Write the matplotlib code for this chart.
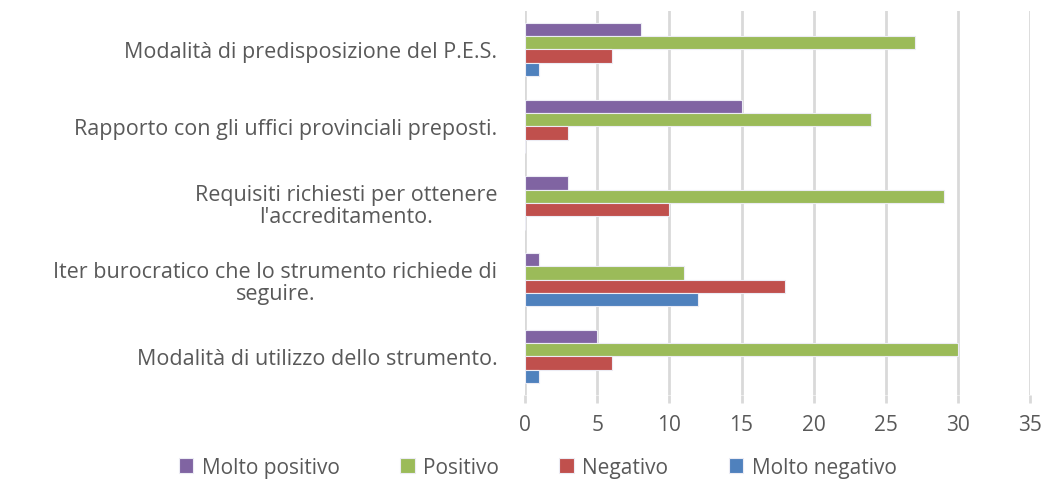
import matplotlib.pyplot as plt
import numpy as np

# --- Data ---
CATEGORIES = [
    "Modalità di predisposizione del P.E.S.",
    "Rapporto con gli uffici provinciali preposti.",
    "Requisiti richiesti per ottenere\nl'accreditamento.",
    "Iter burocratico che lo strumento richiede di\nseguire.",
    "Modalità di utilizzo dello strumento.",
]
SERIES = ["Molto positivo", "Positivo", "Negativo", "Molto negativo"]
MOLTO_POSITIVO = [8, 15, 3, 1, 5]
POSITIVO = [27, 24, 29, 11, 30]
NEGATIVO = [6, 3, 10, 18, 6]
MOLTO_NEGATIVO = [1, 0, 0, 12, 1]
X_TICKS = [0, 5, 10, 15, 20, 25, 30, 35]

COLORS = ["#8064A2", "#9BBB59", "#C0504D", "#4F81BD"]
TEXT_COLOR = "#595959"
GRID_COLOR = "#D9D9D9"
OUTPUT_IMAGE = "out.png"

plt.rcParams["font.family"] = ["Open Sans", "DejaVu Sans"]

fig = plt.figure(figsize=(10.48, 4.85), dpi=100)
ax = fig.add_axes([0.501, 0.184, 0.482, 0.791])

values = [MOLTO_POSITIVO, POSITIVO, NEGATIVO, MOLTO_NEGATIVO]
y = np.arange(len(CATEGORIES))
h = 0.174
for i, (name, vals, col) in enumerate(zip(SERIES, values, COLORS)):
    offs = (i - 1.5) * h
    ax.barh(y + offs, vals, height=h, color=col, edgecolor="#ECECF4",
            linewidth=0.8, label=name, zorder=3)

ax.set_xlim(0, 35)
ax.set_ylim(4.5, -0.5)
ax.set_xticks(X_TICKS)
ax.set_yticks(y)
ax.set_yticklabels(CATEGORIES, multialignment="center", linespacing=1.05)

ax.grid(axis="x", color=GRID_COLOR, linewidth=2, zorder=0)
for s in ax.spines.values():
    s.set_visible(False)

ax.tick_params(axis="y", length=0, pad=20, labelsize=15.5, labelcolor=TEXT_COLOR)
ax.tick_params(axis="x", length=6, width=2, color=GRID_COLOR, pad=8,
               labelsize=15, labelcolor=TEXT_COLOR)

fig.legend(loc="center", bbox_to_anchor=(0.513, 0.035), ncol=4, frameon=False,
           fontsize=15, labelcolor=TEXT_COLOR, handlelength=0.7,
           handleheight=0.7, handletextpad=0.4, columnspacing=2.9)

fig.savefig(OUTPUT_IMAGE, dpi=100)
